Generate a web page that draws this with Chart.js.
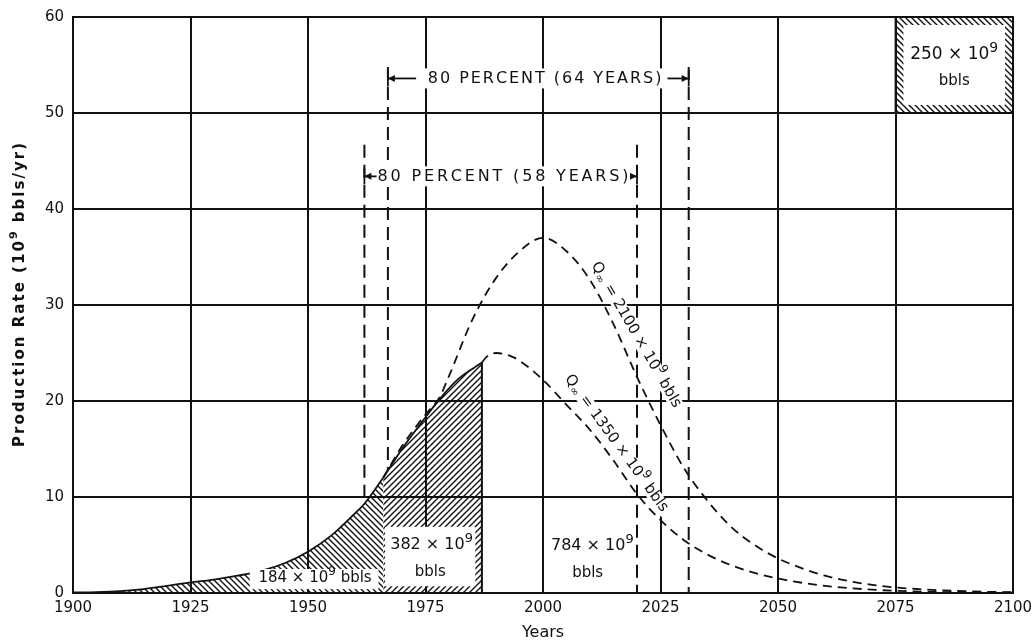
<!DOCTYPE html>
<html>
<head>
<meta charset="utf-8">
<script src="https://cdn.jsdelivr.net/npm/chart.js@4.4.1/dist/chart.umd.min.js"></script>
<style>
  html, body { margin: 0; padding: 0; background: #fff; }
  #wrap { width: 1034px; height: 644px; }
</style>
</head>
<body>
<div id="wrap"><canvas id="chart" width="1034" height="644"></canvas></div>
<script>
// Historical production, split where the hatching changes direction
const earlyYears = [1900, 1905, 1910, 1915, 1920, 1925, 1930, 1935, 1940, 1945, 1950, 1955, 1960, 1962, 1966];
const earlyRate  = [0.05, 0.1, 0.2, 0.4, 0.75, 1.1, 1.4, 1.8, 2.3, 3.1, 4.3, 6.0, 8.3, 9.3, 12.0];
const lateYears  = [1966, 1970, 1975, 1978, 1982, 1987];
const lateRate   = [12.0, 15.0, 18.3, 20.2, 22.3, 24.0];

// Projected curves (Q∞ = 2100 and 1350 x 10^9 bbls)
const q2100Years = [1966, 1970, 1975, 1978, 1980, 1985, 1990, 1995, 2000, 2005, 2010, 2015, 2020, 2025, 2030, 2035, 2040, 2045, 2050, 2055, 2060, 2070, 2080, 2090, 2100];
const q2100Rate  = [12.0, 15.3, 18.6, 20.4, 22.6, 28.5, 32.8, 35.6, 37.0, 35.6, 32.6, 28.0, 22.5, 17.5, 13.0, 9.6, 6.9, 5.0, 3.6, 2.6, 1.8, 0.85, 0.4, 0.18, 0.08];
const q1350Years = [1987, 1988, 1990, 1993, 1995, 2000, 2005, 2010, 2015, 2020, 2025, 2030, 2035, 2040, 2045, 2050, 2060, 2070, 2080, 2090, 2100];
const q1350Rate  = [24.0, 24.6, 25.0, 24.7, 24.2, 22.2, 19.6, 17.0, 13.8, 10.3, 7.6, 5.5, 4.0, 2.9, 2.1, 1.5, 0.75, 0.35, 0.15, 0.07, 0.03];

// 80 percent bracket markers
const markerYears  = [1962, 1967, 2020, 2031];
const markerTop    = [46.7, 54.8, 46.7, 54.8];
const markerBottom = [9.3, 12.8, 0, 0];

const xTicks = [1900, 1925, 1950, 1975, 2000, 2025, 2050, 2075, 2100];
const yTicks = [0, 10, 20, 30, 40, 50, 60];

const FONT = "'DejaVu Sans', sans-serif";
const canvas = document.getElementById('chart');
const mainCtx = canvas.getContext('2d');

function hatch(dir) {
  const s = 6;
  const c = document.createElement('canvas');
  c.width = s; c.height = s;
  const g = c.getContext('2d');
  g.strokeStyle = '#111';
  g.lineWidth = 1.4;
  g.beginPath();
  if (dir === '/') {
    g.moveTo(0, s); g.lineTo(s, 0);
    g.moveTo(-1, 1); g.lineTo(1, -1);
    g.moveTo(s - 1, s + 1); g.lineTo(s + 1, s - 1);
  } else {
    g.moveTo(0, 0); g.lineTo(s, s);
    g.moveTo(-1, s - 1); g.lineTo(1, s + 1);
    g.moveTo(s - 1, -1); g.lineTo(s + 1, 1);
  }
  g.stroke();
  return mainCtx.createPattern(c, 'repeat');
}
const backHatch = hatch('\\');
const fwdHatch  = hatch('/');

const pts = (xs, ys) => xs.map((v, i) => ({ x: v, y: ys[i] }));
const lastYear = lateYears[lateYears.length - 1];
const lastRate = lateRate[lateRate.length - 1];

const datasets = [
  {
    data: pts(earlyYears, earlyRate), fill: 'origin', backgroundColor: backHatch,
    borderColor: '#111', borderWidth: 1.8, cubicInterpolationMode: 'monotone'
  },
  {
    data: pts(lateYears, lateRate), fill: 'origin', backgroundColor: fwdHatch,
    borderColor: '#111', borderWidth: 1.8, cubicInterpolationMode: 'monotone'
  },
  {
    data: [{ x: lastYear, y: lastRate }, { x: lastYear, y: 0 }],
    fill: false, borderColor: '#111', borderWidth: 2
  },
  {
    data: pts(q2100Years, q2100Rate), fill: false, borderColor: '#111', borderWidth: 1.8,
    borderDash: [9, 6], cubicInterpolationMode: 'monotone'
  },
  {
    data: pts(q1350Years, q1350Rate), fill: false, borderColor: '#111', borderWidth: 1.8,
    borderDash: [9, 6], cubicInterpolationMode: 'monotone'
  }
];
markerYears.forEach((yr, i) => {
  datasets.push({
    data: [{ x: yr, y: markerTop[i] }, { x: yr, y: markerBottom[i] }],
    fill: false, borderColor: '#111', borderWidth: 2, borderDash: [13, 7]
  });
});

// a line of text made of parts (for superscripts / subscripts)
function richText(ctx, parts, cx, cy) {
  let total = 0;
  parts.forEach(p => { ctx.font = p.size + 'px ' + FONT; p.w = ctx.measureText(p.t).width; total += p.w; });
  let x = cx - total / 2;
  ctx.textAlign = 'left';
  ctx.textBaseline = 'middle';
  parts.forEach(p => {
    ctx.font = p.size + 'px ' + FONT;
    ctx.fillText(p.t, x, cy + (p.dy || 0));
    x += p.w;
  });
  return total;
}
const tenNine = (num, size) => [
  { t: num + ' \u00d7 10', size: size },
  { t: '9', size: size - 3, dy: -6 }
];

// spread characters evenly between x0 and x1
function spacedText(ctx, chars, x0, x1, cy) {
  ctx.textAlign = 'left';
  ctx.textBaseline = 'middle';
  const fontOf = c => (c.bold ? 'bold ' : '') + c.size + 'px ' + FONT;
  const ws = chars.map(c => { ctx.font = fontOf(c); return ctx.measureText(c.ch).width; });
  const raw = ws.reduce((a, b) => a + b, 0);
  const gap = (x1 - x0 - raw) / (chars.length - 1);
  let x = x0;
  chars.forEach((c, i) => {
    ctx.font = fontOf(c);
    ctx.fillText(c.ch, x, cy + (c.dy || 0));
    x += ws[i] + gap;
  });
}
const charsOf = (text, size, bold) => [...text].map(ch => ({ ch, size, bold }));

function arrowLine(ctx, xFrom, xTo, yy) {
  ctx.beginPath();
  ctx.moveTo(xFrom, yy); ctx.lineTo(xTo, yy);
  ctx.stroke();
  const d = xTo > xFrom ? -1 : 1;
  ctx.beginPath();
  ctx.moveTo(xTo, yy);
  ctx.lineTo(xTo + d * 7, yy - 3.5);
  ctx.lineTo(xTo + d * 7, yy + 3.5);
  ctx.closePath();
  ctx.fill();
}

const notes = {
  id: 'notes',
  afterDatasetsDraw(chart) {
    const { ctx, chartArea, scales: { x, y } } = chart;
    const X = v => x.getPixelForValue(v);
    const Y = v => y.getPixelForValue(v);
    ctx.save();
    ctx.fillStyle = '#111';
    ctx.strokeStyle = '#111';
    ctx.lineWidth = 1.8;

    // y axis title
    ctx.save();
    ctx.translate(20, (chartArea.top + chartArea.bottom) / 2 - 10);
    ctx.rotate(-Math.PI / 2);
    const yt = charsOf('Production Rate (10', 15, true)
      .concat([{ ch: '9', size: 11, dy: -6, bold: true }])
      .concat(charsOf(' bbls/yr)', 15, true));
    spacedText(ctx, yt, -152, 152, 0);
    ctx.restore();

    // 382 x 10^9 box inside the hatched area
    ctx.fillStyle = '#fff';
    ctx.fillRect(X(1966.4), Y(6.9), X(1985.6) - X(1966.4), Y(0.7) - Y(6.9));
    ctx.fillStyle = '#111';
    richText(ctx, tenNine('382', 16), X(1976.3), Y(5.0));
    richText(ctx, [{ t: 'bbls', size: 15 }], X(1976.0), Y(2.2));

    // 184 x 10^9 bbls
    ctx.fillStyle = '#fff';
    ctx.fillRect(X(1937.6), Y(2.5), X(1965) - X(1937.6), Y(0.4) - Y(2.5));
    ctx.fillStyle = '#111';
    richText(ctx, tenNine('184', 15).concat([{ t: ' bbls', size: 15 }]), X(1951.5), Y(1.55));

    // 784 x 10^9 bbls
    richText(ctx, tenNine('784', 16), X(2010.5), Y(4.9));
    richText(ctx, [{ t: 'bbls', size: 15 }], X(2009.5), Y(2.1));

    // 250 x 10^9 box, top right cell
    const bx0 = X(2075), bx1 = X(2100), by0 = Y(60), by1 = Y(50);
    ctx.fillStyle = backHatch;
    ctx.fillRect(bx0, by0, bx1 - bx0, by1 - by0);
    ctx.fillStyle = '#fff';
    ctx.fillRect(bx0 + 8, by0 + 8, bx1 - bx0 - 16, by1 - by0 - 16);
    ctx.strokeRect(bx0, by0, bx1 - bx0, by1 - by0);
    ctx.fillStyle = '#111';
    richText(ctx, tenNine('250', 17), (bx0 + bx1) / 2, Y(56.1));
    richText(ctx, [{ t: 'bbls', size: 15 }], (bx0 + bx1) / 2, Y(53.3));

    // 80 percent brackets
    const brackets = [
      { a: 1967, b: 2031, v: 53.6, text: '80 PERCENT (64 YEARS)', t0: 1975.5, t1: 2025.2, ah: 1973 },
      { a: 1962, b: 2020, v: 43.4, text: '80 PERCENT (58 YEARS)', t0: 1964.8, t1: 2018.2 }
    ];
    brackets.forEach(br => {
      ctx.fillStyle = '#fff';
      ctx.fillRect(X(br.t0) - 4, Y(br.v) - 10, X(br.t1) - X(br.t0) + 8, 20);
      ctx.fillStyle = '#111';
      spacedText(ctx, charsOf(br.text, 16), X(br.t0), X(br.t1), Y(br.v));
      if (br.ah) {
        arrowLine(ctx, X(br.ah), X(br.a), Y(br.v));
        arrowLine(ctx, X(br.t1) + 6, X(br.b), Y(br.v));
      } else {
        arrowLine(ctx, X(br.t0) - 1, X(br.a), Y(br.v));
        arrowLine(ctx, X(br.t1) + 2, X(br.b), Y(br.v));
      }
      ctx.beginPath();
      ctx.moveTo(X(br.a), Y(br.v) - 8); ctx.lineTo(X(br.a), Y(br.v) + 8);
      ctx.moveTo(X(br.b), Y(br.v) - 8); ctx.lineTo(X(br.b), Y(br.v) + 8);
      ctx.stroke();
    });

    // rotated labels along the curves
    const curveLabels = [
      { q: '2100', yr: 2019.8, v: 26.9, deg: 60 },
      { q: '1350', yr: 2015.6, v: 15.6, deg: 54 }
    ];
    curveLabels.forEach(l => {
      ctx.save();
      ctx.translate(X(l.yr), Y(l.v));
      ctx.rotate(l.deg * Math.PI / 180);
      const parts = [
        { t: 'Q', size: 15 }, { t: '\u221e', size: 11, dy: 4 },
        { t: ' = ' + l.q + ' \u00d7 10', size: 15 }, { t: '9', size: 12, dy: -6 },
        { t: ' bbls', size: 15 }
      ];
      ctx.globalAlpha = 0;
      const w = richText(ctx, parts, 0, 0);
      ctx.globalAlpha = 1;
      ctx.fillStyle = '#fff';
      ctx.fillRect(-w / 2 - 3, -7, w + 6, 14);
      ctx.fillStyle = '#111';
      richText(ctx, parts, 0, 0);
      ctx.restore();
    });

    ctx.restore();
  }
};

new Chart(canvas, {
  type: 'line',
  data: { datasets },
  plugins: [notes],
  options: {
    responsive: false,
    animation: false,
    layout: { padding: { top: 17, right: 21, left: 0, bottom: 0 } },
    elements: { point: { radius: 0 }, line: { tension: 0 } },
    plugins: { legend: { display: false }, tooltip: { enabled: false } },
    scales: {
      x: {
        type: 'linear', min: 1900, max: 2100,
        afterBuildTicks: s => { s.ticks = xTicks.map(v => ({ value: v })); },
        afterFit: s => { s.height = 51; s.paddingLeft = 0; s.paddingRight = 0; },
        grid: { color: '#111', lineWidth: 2, drawTicks: false },
        border: { color: '#111', width: 2 },
        ticks: { color: '#111', font: { family: FONT, size: 15 }, padding: 6, callback: v => String(v), maxRotation: 0 },
        title: { display: true, text: 'Years', color: '#111', font: { family: FONT, size: 16 }, padding: { top: 0, bottom: 2 } }
      },
      y: {
        min: 0, max: 60,
        afterBuildTicks: s => { s.ticks = yTicks.map(v => ({ value: v })); },
        afterFit: s => { s.width = 73; s.paddingTop = 0; s.paddingBottom = 0; },
        grid: { color: '#111', lineWidth: 2, drawTicks: false },
        border: { color: '#111', width: 2 },
        ticks: { color: '#111', font: { family: FONT, size: 15 }, padding: 9 },
        title: { display: false }
      }
    }
  }
});
</script>
</body>
</html>
